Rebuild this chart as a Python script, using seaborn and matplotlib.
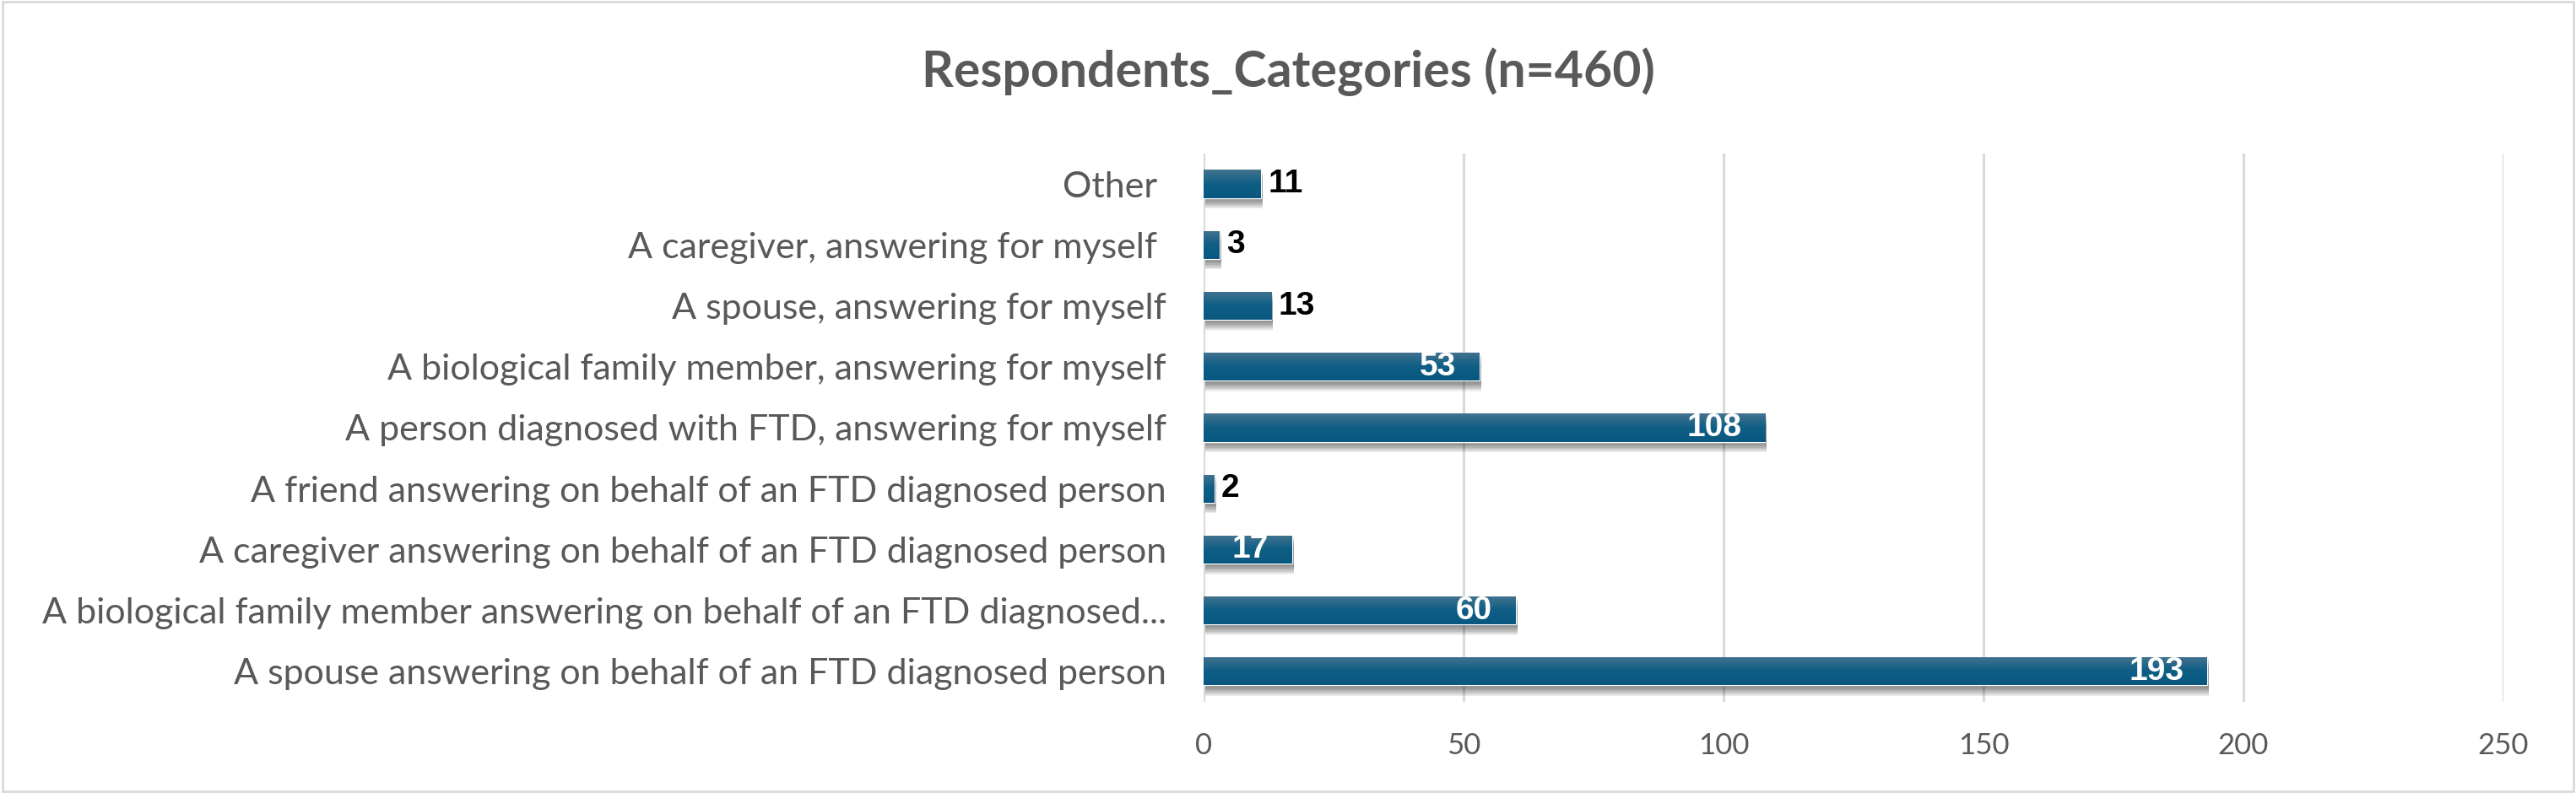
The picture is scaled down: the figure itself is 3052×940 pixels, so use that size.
import matplotlib
matplotlib.use('Agg')
import matplotlib.pyplot as plt
import matplotlib.patheffects as pe
from matplotlib.colors import LinearSegmentedColormap
import numpy as np
import seaborn as sns
import pandas as pd

# data (top to bottom)
categories = [
    'Other ',
    'A caregiver, answering for myself ',
    'A spouse, answering for myself',
    'A biological family member, answering for myself',
    'A person diagnosed with FTD, answering for myself',
    'A friend answering on behalf of an FTD diagnosed person',
    'A caregiver answering on behalf of an FTD diagnosed person',
    'A biological family member answering on behalf of an FTD diagnosed...',
    'A spouse answering on behalf of an FTD diagnosed person',
]
counts = [11, 3, 13, 53, 108, 2, 17, 60, 193]
x_ticks = [0, 50, 100, 150, 200, 250]
title = 'Respondents_Categories (n=460)'

df = pd.DataFrame({'category': categories, 'count': counts})

sns.set_style('white')
plt.rcParams['font.family'] = ['Lato', 'DejaVu Sans']

fig = plt.figure(figsize=(30.52, 9.4), dpi=100)
ax = fig.add_axes([0.4673, 0.1149, 0.5045, 0.6915])

bar_color = '#1a6388'
sns.barplot(data=df, x='count', y='category', orient='h', color=bar_color,
            saturation=1, width=0.46, ax=ax, zorder=3)

ax.set_xlim(0, 250)
ylim = ax.get_ylim()

# soft drop shadow + vertical gradient fill on each bar (lighter at the top)
shadow = [pe.SimplePatchShadow(offset=(1.5, -k), shadow_rgbFace='#202020', alpha=0.08)
          for k in range(1, 10)]
grad_cmap = LinearSegmentedColormap.from_list('bar', ['#44738f', '#0e5e85', '#0a5880'])
grad = np.linspace(0, 1, 64).reshape(-1, 1)
for patch in ax.patches:
    patch.set_path_effects(shadow + [pe.Normal()])
    x0, y0 = patch.get_x(), patch.get_y()
    w, h = patch.get_width(), patch.get_height()
    im = ax.imshow(grad, cmap=grad_cmap, aspect='auto', origin='upper',
                   extent=(x0, x0 + w, y0 + h, y0), zorder=4)
    im.set_clip_path(patch)

ax.set_ylim(ylim)

# value labels: white inside for longer bars, black outside for short ones
for patch, val in zip(ax.patches, counts):
    yc = patch.get_y() + patch.get_height() / 2
    if val > 15:
        ax.annotate(str(val), (val, yc), xytext=(-20, 0), textcoords='offset points',
                    ha='right', va='center', color='white', fontsize=28, fontweight='bold',
                    family='Liberation Sans', zorder=6)
    else:
        ax.annotate(str(val), (val, yc), xytext=(6, 0), textcoords='offset points',
                    ha='left', va='center', color='black', fontsize=28, fontweight='bold',
                    family='Liberation Sans', zorder=6)

ax.set_xticks(x_ticks)
ax.xaxis.grid(True, color='#d9d9d9', linewidth=2.2, zorder=0)
ax.yaxis.grid(False)
ax.set_axisbelow(True)
for s in ax.spines.values():
    s.set_visible(False)
ax.tick_params(axis='x', length=0, pad=26, labelsize=25, labelcolor='#595959')
ax.tick_params(axis='y', length=0, pad=32, labelsize=31, labelcolor='#595959')
ax.set_xlabel('')
ax.set_ylabel('')

fig.suptitle(title, x=0.5, y=0.94, fontsize=42.5, fontweight='bold', color='#595959')

# light frame around the whole chart area
fig.patches.append(plt.Rectangle((0.001, 0.002), 0.998, 0.996, transform=fig.transFigure,
                                 fill=False, edgecolor='#d9d9d9', linewidth=2))

fig.savefig('out.png', dpi=100, facecolor='white')
